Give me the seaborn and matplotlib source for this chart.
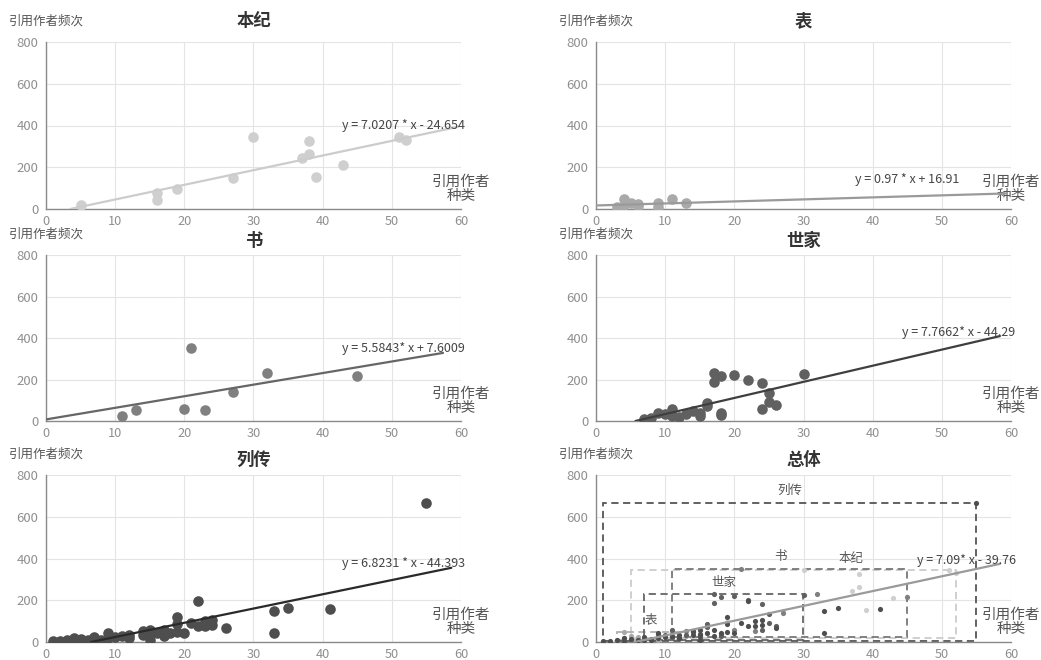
import numpy as np
import pandas as pd
import matplotlib
matplotlib.use("Agg")
import matplotlib.pyplot as plt
from matplotlib.patches import Rectangle
import seaborn as sns

# ---- data: cited-author variety (x) vs. citation frequency (y) per section ----
categories = ["本纪", "表", "书", "世家", "列传"]

benji_x = [5, 16, 16, 19, 27, 30, 37, 38, 38, 39, 43, 51, 52]
benji_y = [19, 78, 43, 97, 147, 344, 242, 325, 263, 151, 213, 343, 331]

biao_x = [3, 4, 4, 5, 6, 6, 9, 9, 11, 13]
biao_y = [11, 48, 19, 27, 25, 14, 30, 11, 48, 27]

shu_x = [11, 13, 20, 21, 23, 27, 32, 45]
shu_y = [22, 51, 56, 350, 55, 141, 231, 216]

shijia_x = [7, 8, 9, 10, 11, 11, 12, 13, 14, 15, 15, 16, 16, 17, 17, 18, 18, 18,
            20, 22, 24, 24, 25, 25, 26, 30]
shijia_y = [10, 13, 40, 32, 58, 22, 18, 34, 50, 38, 26, 88, 74, 229, 189, 216, 38, 30,
            220, 200, 183, 59, 136, 90, 77, 225]

liezhuan_x = [1, 2, 3, 4, 4, 5, 6, 7, 7, 8, 9, 9, 10, 11, 12, 12, 14, 14, 15, 15, 15,
              16, 17, 17, 18, 19, 19, 19, 20, 21, 22, 22, 23, 23, 24, 24, 26, 33, 33,
              35, 41, 55]
liezhuan_y = [3, 3, 11, 21, 5, 15, 11, 24, 8, 11, 45, 21, 24, 30, 35, 19, 53, 35, 59,
              32, 11, 43, 56, 27, 45, 120, 85, 48, 45, 91, 195, 77, 77, 101, 80, 107,
              67, 147, 42, 163, 158, 667]

# fitted linear trends (slope, intercept) and their printed equations
slopes = [7.0207, 0.97, 5.5843, 7.7662, 6.8231, 7.09]
intercepts = [-24.654, 16.91, 7.6009, -44.29, -44.393, -39.76]
equations = ["y = 7.0207 * x - 24.654", "y = 0.97 * x + 16.91", "y = 5.5843* x + 7.6009",
             "y = 7.7662* x - 44.29", "y = 6.8231 * x - 44.393", "y = 7.09* x - 39.76"]

titles = ["本纪", "表", "书", "世家", "列传", "总体"]
x_ticks = [0, 10, 20, 30, 40, 50, 60]
y_ticks = [0, 200, 400, 600, 800]
y_name = "引用作者频次"
x_name = ["引用作者", "种类"]

frames = {
    "本纪": pd.DataFrame({"x": benji_x, "y": benji_y}),
    "表": pd.DataFrame({"x": biao_x, "y": biao_y}),
    "书": pd.DataFrame({"x": shu_x, "y": shu_y}),
    "世家": pd.DataFrame({"x": shijia_x, "y": shijia_y}),
    "列传": pd.DataFrame({"x": liezhuan_x, "y": liezhuan_y}),
}

# ---- styling ----
sns.set_theme(style="white")
plt.rcParams["font.family"] = ["Noto Sans CJK SC", "DejaVu Sans"]

dot_colors = {"本纪": "#cfcfcf", "表": "#a9a9a9", "书": "#808080", "世家": "#606060", "列传": "#4e4e4e"}
line_colors = ["#cccccc", "#9a9a9a", "#666666", "#3f3f3f", "#2a2a2a", "#9a9a9a"]
box_colors = {"本纪": "#cccccc", "表": "#b0b0b0", "书": "#777777", "世家": "#666666", "列传": "#555555"}

W, H = 1041, 660
fig = plt.figure(figsize=(W / 100, H / 100), dpi=100)
fig.patch.set_facecolor("white")

panel_px = [(46, 42, 461, 209), (596, 42, 1011, 209),
            (46, 255, 461, 421), (596, 255, 1011, 421),
            (46, 475, 461, 642), (596, 475, 1011, 642)]
title_gap = [21, 21, 14, 14, 15, 15]
line_end = [59.6, 59.3, 57.4, 58.4, 58.6, 58.4]
eq_pos = [(51.7, 402), (45.0, 139), (51.7, 347), (52.4, 427), (51.7, 376), (53.5, 392)]

PT = 0.72  # points per pixel at 100 dpi

for i, (l, t, r, b) in enumerate(panel_px):
    ax = fig.add_axes([l / W, 1 - b / H, (r - l) / W, (b - t) / H])

    if i < 5:
        cat = categories[i]
        df = frames[cat]
        sns.scatterplot(data=df, x="x", y="y", ax=ax, color=dot_colors[cat],
                        s=58, linewidth=0, legend=False, zorder=3)
    else:
        for cat in categories:
            df = frames[cat]
            x0, x1 = df["x"].min(), df["x"].max()
            y0, y1 = df["y"].min(), df["y"].max()
            ax.add_patch(Rectangle((x0, y0), x1 - x0, y1 - y0, fill=False,
                                   ec=box_colors[cat], lw=1.3, ls=(0, (4, 2.5)), zorder=2))
        label_shift = {"本纪": 8.4, "书": -1.4}
        for cat in categories:
            df = frames[cat]
            cx = (df["x"].min() + df["x"].max()) / 2 + label_shift.get(cat, 0)
            ax.annotate(cat, xy=(cx, df["y"].max()), xycoords="data",
                        xytext=(0, 12 * PT), textcoords="offset points",
                        ha="center", va="center", fontsize=9, color="#555555")
        for cat in categories:
            df = frames[cat]
            sns.scatterplot(data=df, x="x", y="y", ax=ax, color=dot_colors[cat],
                            s=14, linewidth=0, legend=False, zorder=3)

    ax.set_xlim(0, 60)
    ax.set_ylim(0, 800)
    ax.set_xticks(x_ticks)
    ax.set_yticks(y_ticks)
    ax.set_xlabel("")
    ax.set_ylabel("")
    ax.grid(True, color="#e4e4e4", lw=0.8)
    ax.set_axisbelow(True)
    for side in ("top", "right"):
        ax.spines[side].set_visible(False)
    for side in ("left", "bottom"):
        ax.spines[side].set_color("#8a8a8a")
        ax.spines[side].set_linewidth(1.0)
    ax.tick_params(axis="both", colors="#8a8a8a", labelcolor="#8f8f8f",
                   labelsize=9.5, length=3.5, width=0.9, pad=2, direction="out")
    ax.tick_params(axis="x", pad=0.5, labelsize=9.2)

    # trend line drawn from the printed coefficients, clipped at y = 0
    a, c = slopes[i], intercepts[i]
    xs = np.array([max(0.0, -c / a), line_end[i]])
    ax.plot(xs, a * xs + c, color=line_colors[i], lw=1.6, zorder=4)
    ax.text(eq_pos[i][0], eq_pos[i][1], equations[i], ha="center", va="center",
            fontsize=9, color="#444444", zorder=5)

    # titles and axis names
    ax.annotate(titles[i], xy=(0.5, 1), xycoords="axes fraction",
                xytext=(0, title_gap[i] * PT), textcoords="offset points",
                ha="center", va="center", fontsize=12.5, fontweight="bold", color="#333333")
    ax.annotate(y_name, xy=(0, 1), xycoords="axes fraction",
                xytext=(0, 21 * PT), textcoords="offset points",
                ha="center", va="center", fontsize=9, color="#555555")
    ax.annotate(x_name[0], xy=(1, 0), xycoords="axes fraction",
                xytext=(0, 27 * PT), textcoords="offset points",
                ha="center", va="center", fontsize=10.5, color="#555555")
    ax.annotate(x_name[1], xy=(1, 0), xycoords="axes fraction",
                xytext=(0, 13 * PT), textcoords="offset points",
                ha="center", va="center", fontsize=10.5, color="#555555")

fig.savefig("out.png", dpi=100, facecolor="white")
